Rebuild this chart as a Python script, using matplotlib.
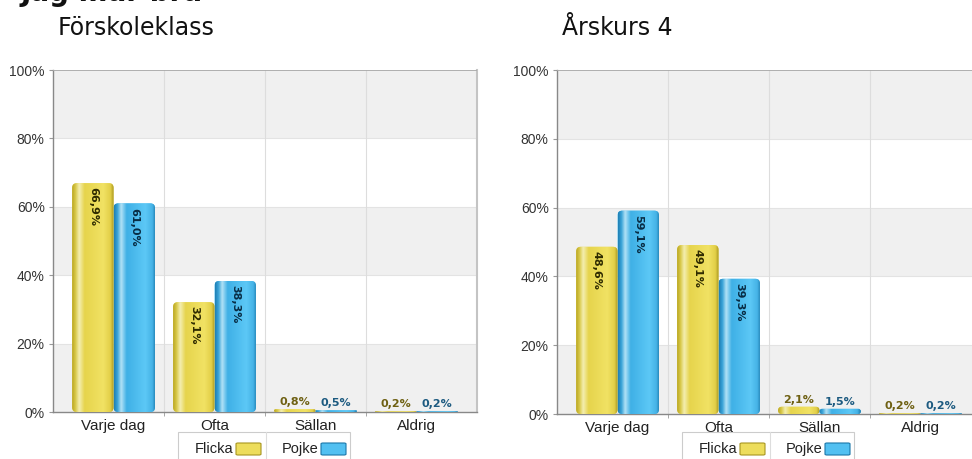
import numpy as np
import matplotlib.pyplot as plt
from matplotlib.patches import FancyBboxPatch, Rectangle
from matplotlib.colors import LinearSegmentedColormap
from matplotlib.lines import Line2D

# --- data -------------------------------------------------------------
title = 'Jag mår bra'
panels = ['Förskoleklass', 'Årskurs 4']
categories = ['Varje dag', 'Ofta', 'Sällan', 'Aldrig']
series = ['Flicka', 'Pojke']
flicka = [[66.9, 32.1, 0.8, 0.2], [48.6, 49.1, 2.1, 0.2]]
pojke = [[61.0, 38.3, 0.5, 0.2], [59.1, 39.3, 1.5, 0.2]]
yticks = [0, 20, 40, 60, 80, 100]

W, H = 972, 459
fig = plt.figure(figsize=(W / 100, H / 100), dpi=100)


def fx(x):
    return x / W


def fy(y):
    return 1 - y / H


yellow = LinearSegmentedColormap.from_list('y', [
    (0.0, '#b9a622'), (0.08, '#d8c848'), (0.17, '#f4eeb0'), (0.3, '#e6d44c'),
    (0.75, '#f1e264'), (0.92, '#e2cf48'), (1.0, '#a89620')])
blue = LinearSegmentedColormap.from_list('b', [
    (0.0, '#1f7fb4'), (0.08, '#3aa4d8'), (0.17, '#b2e2f6'), (0.3, '#3fb0e6'),
    (0.75, '#5cc8f6'), (0.92, '#45b2e6'), (1.0, '#1c78aa')])
cmaps = [yellow, blue]
inner_col = ['#2e2a00', '#082c44']
outer_col = ['#6e6012', '#1c5a80']

bw = 0.41
xlim = (-0.6, 3.6)


def draw_bar(ax, x, h, cmap, aspect):
    r = min(0.045, bw / 2, h / aspect / 2)
    patch = FancyBboxPatch((x - bw / 2, 0), bw, h,
                           boxstyle=f"round,pad=0,rounding_size={r}",
                           mutation_aspect=aspect, facecolor=cmap(0.6),
                           edgecolor='none', zorder=2)
    ax.add_patch(patch)
    grad = np.linspace(0, 1, 128).reshape(1, -1)
    im = ax.imshow(grad, cmap=cmap, extent=(x - bw / 2, x + bw / 2, 0, h),
                   aspect='auto', origin='lower', zorder=3, interpolation='bilinear')
    im.set_clip_path(patch)


axes_px = [(53, 70, 424, 342), (557, 70, 424, 344)]

for p in range(2):
    x0, y0, w, h = axes_px[p]
    ax = fig.add_axes([fx(x0), fy(y0 + h), w / W, h / H])
    aspect = (100 / h) / ((xlim[1] - xlim[0]) / w)

    for lo in (0, 40, 80):
        ax.axhspan(lo, lo + 20, color='#f0f0f0', zorder=0, lw=0)
    for t in (20, 40, 60, 80):
        ax.axhline(t, color='#e3e3e3', lw=0.8, zorder=1)
    for s in (0.5, 1.5, 2.5):
        ax.axvline(s, color='#dddddd', lw=0.8, zorder=1)
    ax.axhline(100, color='#aaaaaa', lw=1.3, zorder=4)

    vals = [flicka[p], pojke[p]]
    for k in range(2):
        for i, v in enumerate(vals[k]):
            xc = i + (k - 0.5) * bw
            draw_bar(ax, xc, v, cmaps[k], aspect)
            lab = f'{v:.1f}%'.replace('.', ',')
            if v > 5:
                ax.annotate(lab, (xc, v), xytext=(0, -3), textcoords='offset points',
                            rotation=270, ha='center', va='top', fontsize=8,
                            fontweight='bold', color=inner_col[k], zorder=5)
            else:
                ax.annotate(lab, (xc, v), xytext=(0, 1.5), textcoords='offset points',
                            ha='center', va='bottom', fontsize=8,
                            fontweight='bold', color=outer_col[k], zorder=5)

    ax.set_xlim(*xlim)
    ax.set_ylim(0, 100)
    ax.set_xticks(range(len(categories)))
    ax.set_xticklabels(categories, fontsize=11, color='#222222', family='Liberation Sans')
    ax.set_xticks([0.5, 1.5, 2.5], minor=True)
    ax.tick_params(axis='x', which='major', length=0, pad=5)
    ax.tick_params(axis='x', which='minor', length=3, color='#999999')
    ax.set_yticks(yticks)
    ax.set_yticklabels([f'{t}%' for t in yticks], fontsize=10, color='#333333',
                       family='Liberation Sans')
    ax.tick_params(axis='y', length=3, color='#999999', pad=3)
    for side in ('left', 'bottom'):
        ax.spines[side].set_color('#888888')
        ax.spines[side].set_linewidth(1)
    ax.spines['top'].set_visible(False)
    ax.spines['right'].set_color('#c4c4c4')
    ax.spines['right'].set_linewidth(1.5)

    # subtitle
    fig.text(fx(x0 + 5), fy(28), panels[p], fontsize=17, family='DejaVu Sans',
             va='center', ha='left', color='#111111')

    # legend box
    lx = 178 + (x0 - 53)
    fig.patches.append(Rectangle((fx(lx), fy(470)), (172) / W, 38 / H,
                                 transform=fig.transFigure, facecolor='white',
                                 edgecolor='#cccccc', lw=0.8))
    fig.lines.append(Line2D([fx(lx + 88), fx(lx + 88)], [fy(432), fy(470)],
                            transform=fig.transFigure, color='#dddddd', lw=0.8))
    for k, name in enumerate(series):
        tx = lx + 55 + k * 85
        fig.text(fx(tx), fy(449), name, fontsize=10.5, family='Liberation Sans',
                 ha='right', va='center', color='#222222')
        sw = FancyBboxPatch((fx(tx + 3), fy(455)), 25 / W, 12 / H,
                            boxstyle='round,pad=0,rounding_size=0.002',
                            transform=fig.transFigure, facecolor=cmaps[k](0.6),
                            edgecolor=cmaps[k](1.0), lw=0.8)
        fig.patches.append(sw)

fig.text(fx(20), fy(1), title, fontsize=20, fontweight='bold', va='baseline',
         ha='left', color='#111111')

fig.savefig('out.png', dpi=100)
